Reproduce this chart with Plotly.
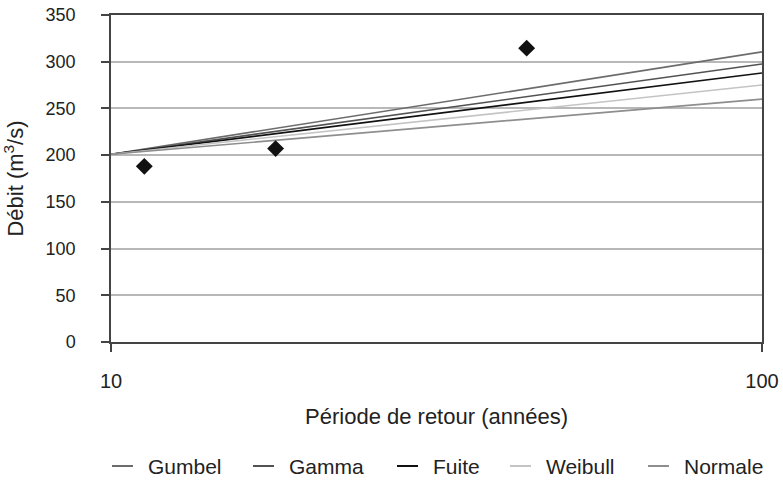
import plotly.graph_objects as go

# Return periods (years) and fitted discharge for each distribution (m3/s)
periods = [10, 100]
gumbel = [201, 310.5]
gamma = [201, 297.5]
fuite = [201, 288]
weibull = [201, 275]
normale = [201, 260]

# Observed floods
obs_period = [11.25, 17.9, 43.5]
obs_flow = [188, 207, 314.5]

series_names = ["Gumbel", "Gamma", "Fuite", "Weibull", "Normale"]
series_values = [gumbel, gamma, fuite, weibull, normale]
series_colors = ["#6c6c6c", "#525252", "#111111", "#c4c4c4", "#8e8e8e"]

W, H = 783, 482
L, R, T, B = 111, 21, 15, 140
FONT = "Liberation Sans, Arial, sans-serif"
TXT = "#222222"

fig = go.Figure()
for name, vals, col in zip(series_names, series_values, series_colors):
    fig.add_trace(go.Scatter(x=periods, y=vals, mode="lines", name=name,
                             line=dict(color=col, width=1.6), showlegend=False))

fig.add_trace(go.Scatter(x=obs_period, y=obs_flow, mode="markers", name="Observé",
                         marker=dict(symbol="diamond", size=13, color="#111111"),
                         showlegend=False))

# Legend row drawn below the plot area
pw, ph = W - L - R, H - T - B
def px_x(px):
    return (px - L) / pw
def px_y(py):
    return (H - B - py) / ph

legend_line_x = [112, 253, 397, 510, 648]
legend_y = 466
shapes = []
annotations = []
for name, col, x0 in zip(series_names, series_colors, legend_line_x):
    shapes.append(dict(type="line", xref="paper", yref="paper",
                       x0=px_x(x0), x1=px_x(x0 + 21), y0=px_y(legend_y), y1=px_y(legend_y),
                       line=dict(color=col, width=2)))
    annotations.append(dict(xref="paper", yref="paper", x=px_x(x0 + 34), y=px_y(legend_y),
                            xanchor="left", yanchor="middle", showarrow=False, text=name,
                            font=dict(family=FONT, size=21, color=TXT)))

fig.update_layout(
    width=W, height=H,
    margin=dict(l=L, r=R, t=T, b=B),
    paper_bgcolor="white", plot_bgcolor="white",
    font=dict(family=FONT, size=17, color=TXT),
    shapes=shapes, annotations=annotations,
    xaxis=dict(type="log", range=[1, 2], tickvals=[10, 100], ticktext=["10", "100"],
               automargin=False,
               showgrid=False, zeroline=False, showline=True, mirror=True,
               linecolor="#444444", linewidth=1.5,
               ticks="outside", ticklen=8, tickcolor="#444444", tickwidth=1.5,
               ticklabelstandoff=12, tickfont=dict(size=20),
               title=dict(text="Période de retour (années)", standoff=18,
                          font=dict(size=22))),
    yaxis=dict(range=[0, 350], dtick=50, automargin=False,
               showgrid=True, gridcolor="#b8b8b8", gridwidth=1.5,
               zeroline=False, showline=True, mirror=True,
               linecolor="#444444", linewidth=1.5,
               ticks="outside", ticklen=8, tickcolor="#444444", tickwidth=1.5,
               ticklabelstandoff=22, tickfont=dict(size=18),
               title=dict(text="Débit (m<sup>3</sup>/s)", standoff=16, font=dict(size=22))),
)

fig.write_html("out.html")
